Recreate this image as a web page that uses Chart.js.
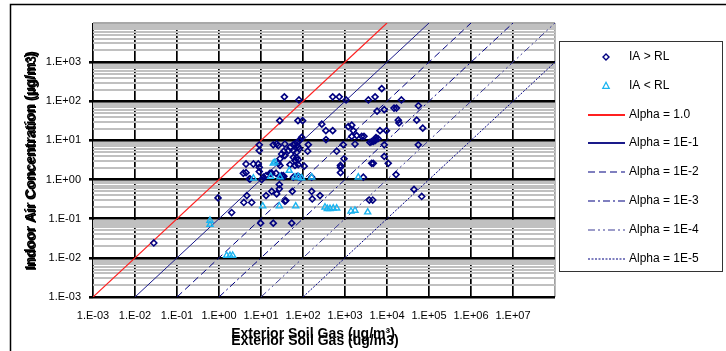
<!DOCTYPE html>
<html>
<head>
<meta charset="utf-8">
<script src="https://cdn.jsdelivr.net/npm/chart.js@4.4.0/dist/chart.umd.min.js"></script>
<style>
  body { margin: 0; background: #fff; }
  canvas { display: block; }
</style>
</head>
<body>
<canvas id="grafica" width="726" height="351"></canvas>
<script>
// Ejes
const xTickLabels = ['1.E-03', '1.E-02', '1.E-01', '1.E+00', '1.E+01', '1.E+02', '1.E+03', '1.E+04', '1.E+05', '1.E+06', '1.E+07'];
const yTickLabels = ['1.E-03', '1.E-02', '1.E-01', '1.E+00', '1.E+01', '1.E+02', '1.E+03'];
const xRange = [1e-3, 1e8];
const yRange = [1e-3, 1e4];

// IA > RL  [soil gas, indoor air]
const iaAboveRL = [
  [7500, 210], [36, 130], [510, 130], [730, 130], [5200, 130], [80, 108], [1060, 108], [3600, 108],
  [22000, 108], [56000, 77], [14700, 67], [16800, 67], [8600, 61], [5800, 56], [28, 32], [76, 32],
  [98, 32], [18600, 33], [51000, 33], [19300, 28], [280, 26], [1200, 22.5], [1450, 24.6], [71000, 20.6],
  [350, 17.8], [510, 17.8], [1580, 17.8], [6800, 17.8], [9700, 17.8], [1450, 12.7], [1900, 13.3], [2500, 12.7],
  [2830, 12.7], [5470, 11.8], [6100, 11.1], [5470, 10.5], [5180, 9.9], [4320, 9.3], [3940, 8.9], [4720, 9.5],
  [353, 10.5], [93, 12], [85, 10.3], [73, 8.9], [1730, 8.1], [910, 7.8], [8600, 7.7], [55600, 7.7],
  [134, 7.8], [9.1, 7.7], [9.1, 5.5], [19.6, 7.7], [23.6, 8.1], [25.8, 7.4], [37, 8.1], [49, 6.7],
  [59, 7.8], [64.5, 8.1], [73, 7.4], [77, 6.7], [82, 6.1], [44.7, 5.5], [59, 5.5], [71, 5.0],
  [634, 5.3], [129, 5.3], [35, 5.3], [31, 4.5], [37, 4.1], [59, 3.7], [64.5, 3.05], [71, 3.6],
  [77, 3.2], [28.3, 3.4], [25.8, 2.6], [946, 3.4], [8600, 3.9], [4.4, 2.5], [6.6, 2.5], [8.6, 2.5],
  [9.1, 2.06], [49, 2.4], [64.5, 2.3], [77, 2.4], [107, 2.2], [781, 2.3], [781, 2.06], [781, 1.5],
  [4320, 2.6], [4720, 2.6], [10700, 2.6], [4.4, 1.5], [9.1, 1.6], [16.4, 1.45], [22.8, 1.45], [28.3, 2.3],
  [2730, 1.15], [16400, 1.34], [28.3, 1.19], [34, 1.26], [59, 1.15], [73, 1.21], [82, 1.15], [161, 1.15],
  [3.8, 1.45], [5.3, 1.04], [11.4, 1.15], [13.2, 1.26], [18, 1.45], [31, 1.26], [35, 1.19], [5.5, 1.04],
  [10.4, 1.0], [4.6, 0.39], [3.9, 0.26], [6.0, 0.26], [13.2, 0.39], [18, 0.5], [23.6, 0.43], [27.3, 0.745],
  [27.3, 0.58], [55.6, 0.5], [37, 0.28], [39, 0.29], [161, 0.5], [166, 0.32], [254, 0.39], [3790, 0.3],
  [4570, 0.3], [44000, 0.56], [67000, 0.37], [9.8, 0.077], [19.6, 0.077], [54, 0.077], [0.95, 0.34], [2.0, 0.144],
  [0.028, 0.024]
];

// IA < RL
const iaBelowRL = [
  [6.6, 1.08], [19.6, 2.6], [47, 1.7], [2070, 1.15], [17, 1.19], [28.3, 1.16], [64.5, 1.15], [77, 1.19],
  [93, 1.1], [161, 1.15], [21.5, 2.76], [11, 0.21], [27.3, 0.21], [67, 0.21], [334, 0.196], [379, 0.18],
  [439, 0.18], [526, 0.185], [634, 0.185], [1390, 0.155], [1730, 0.162], [3470, 0.147], [0.61, 0.09], [0.61, 0.071],
  [1.52, 0.0115], [1.83, 0.0115], [2.12, 0.0115]
];

// Rectas alpha (inicio y fin)
const alphaNames = ['Alpha = 1.0', 'Alpha = 1E-1', 'Alpha = 1E-2', 'Alpha = 1E-3', 'Alpha = 1E-4', 'Alpha = 1E-5'];
const alphaStart = [[1e-3, 1e-3], [1e-2, 1e-3], [1e-1, 1e-3], [1, 1e-3], [10, 1e-3], [100, 1e-3]];
const alphaEnd = [[1e4, 1e4], [1e5, 1e4], [1e6, 1e4], [1e7, 1e4], [1e8, 1e4], [1e8, 1e3]];

const alphaColors = ['#ff2020', '#1a1a8a', '#000080', '#000080', '#3c3c96', '#000080'];
const alphaDash = [[], [], [7, 4], [7, 3, 2, 3], [7, 3, 2, 3, 2, 3], [2, 1.5]];
const navy = '#000080';
const cyan = '#1ab4f0';

const font = 'Liberation Sans, Arial, sans-serif';
Chart.defaults.font.family = font;
Chart.defaults.color = '#000';

function isDecade(v) {
  const l = Math.log10(v);
  return Math.abs(l - Math.round(l)) < 1e-6;
}
function matchLabel(v, labels) {
  for (let i = 0; i < labels.length; i++) {
    if (Math.abs(Number(labels[i]) - v) / v < 1e-6) return labels[i];
  }
  return '';
}

const datasets = [
  {
    label: 'IA > RL',
    data: iaAboveRL.map(p => ({x: p[0], y: p[1]})),
    pointStyle: 'rectRot',
    pointRadius: 3,
    pointBorderWidth: 1.6,
    borderColor: navy,
    backgroundColor: 'rgba(0,0,0,0)',
    order: 1
  },
  {
    label: 'IA < RL',
    data: iaBelowRL.map(p => ({x: p[0], y: p[1]})),
    pointStyle: 'triangle',
    pointRadius: 3.5,
    pointBorderWidth: 1.4,
    borderColor: cyan,
    backgroundColor: 'rgba(0,0,0,0)',
    order: 0
  }
];
for (let i = 0; i < alphaNames.length; i++) {
  datasets.push({
    label: alphaNames[i],
    type: 'line',
    data: [{x: alphaStart[i][0], y: alphaStart[i][1]}, {x: alphaEnd[i][0], y: alphaEnd[i][1]}],
    showLine: true,
    borderColor: alphaColors[i],
    borderWidth: i == 0 ? 1.2 : 1,
    borderDash: alphaDash[i],
    pointRadius: 0,
    fill: false,
    order: 2
  });
}

// Marco, titulos y leyenda
const decoraciones = {
  id: 'decoraciones',
  beforeDraw(chart) {
    const ctx = chart.ctx;
    ctx.save();
    ctx.fillStyle = '#fff';
    ctx.fillRect(0, 0, chart.width, chart.height);
    ctx.strokeStyle = '#000';
    ctx.lineWidth = 1.5;
    ctx.strokeRect(10.5, 4.5, 900, 500);
    ctx.restore();
  },
  afterDraw(chart) {
    const ctx = chart.ctx;
    ctx.save();
    // titulo eje y
    ctx.fillStyle = '#000';
    ctx.font = 'bold 14px ' + font;
    ctx.textAlign = 'center';
    ctx.textBaseline = 'middle';
    ctx.translate(31, 161);
    ctx.rotate(-Math.PI / 2);
    ctx.fillText('Indoor Air Concentration (µg/m³)', 0, 0);
    ctx.fillText('Indoor Air Concentration (µg/m3)', 0, 1);
    ctx.restore();

    ctx.save();
    ctx.fillStyle = '#000';
    ctx.font = 'bold 14px ' + font;
    ctx.textAlign = 'center';
    ctx.textBaseline = 'middle';
    ctx.fillText('Exterior Soil Gas (µg/m³)', 313, 334);
    ctx.fillText('Exterior Soil Gas (ug/m3)', 315, 341);
    ctx.restore();

    // leyenda
    ctx.save();
    ctx.strokeStyle = '#333';
    ctx.lineWidth = 1;
    ctx.fillStyle = '#fff';
    ctx.fillRect(559.5, 41.5, 163, 230);
    ctx.strokeRect(559.5, 41.5, 163, 230);
    ctx.font = '12px ' + font;
    ctx.textAlign = 'left';
    ctx.textBaseline = 'middle';
    const y0 = 57, dy = 28.8;
    // diamante
    ctx.strokeStyle = navy;
    ctx.lineWidth = 1.4;
    ctx.beginPath();
    ctx.moveTo(603, y0); ctx.lineTo(606, y0 - 3); ctx.lineTo(609, y0); ctx.lineTo(606, y0 + 3); ctx.closePath();
    ctx.stroke();
    // triangulo
    const y1 = y0 + dy;
    ctx.strokeStyle = cyan;
    ctx.lineWidth = 1.3;
    ctx.beginPath();
    ctx.moveTo(606, y1 - 3.5); ctx.lineTo(609.2, y1 + 2.5); ctx.lineTo(602.8, y1 + 2.5); ctx.closePath();
    ctx.stroke();
    ctx.fillStyle = '#000';
    ctx.fillText('IA > RL', 629, y0);
    ctx.fillText('IA < RL', 629, y1);
    for (let i = 0; i < alphaNames.length; i++) {
      const y = Math.round(y0 + dy * (i + 2));
      ctx.strokeStyle = alphaColors[i];
      ctx.lineWidth = i < 2 ? 2 : 1.2;
      ctx.setLineDash(alphaDash[i]);
      ctx.beginPath();
      ctx.moveTo(588, y);
      ctx.lineTo(625, y);
      ctx.stroke();
      ctx.setLineDash([]);
      ctx.fillText(alphaNames[i], 629, y);
    }
    ctx.restore();
  }
};

new Chart(document.getElementById('grafica'), {
  type: 'scatter',
  data: { datasets: datasets },
  plugins: [decoraciones],
  options: {
    responsive: false,
    animation: false,
    layout: { padding: { left: 0, top: 23, right: 171, bottom: 0 } },
    plugins: {
      legend: { display: false },
      tooltip: { enabled: false }
    },
    scales: {
      x: {
        type: 'logarithmic',
        min: xRange[0],
        max: xRange[1],
        afterBuildTicks: (scale) => {
          const vals = xTickLabels.map(Number);
          vals.push(xRange[1]);
          scale.ticks = vals.map(v => ({value: v}));
        },
        afterFit: (scale) => { scale.height = 54; },
        border: { display: false },
        grid: {
          drawTicks: false,
          color: (c) => (c.tick && c.tick.value > xRange[1] * 0.99) ? '#a0a0a0' : '#000',
          lineWidth: 1.7
        },
        ticks: {
          autoSkip: false,
          maxRotation: 0,
          padding: 12,
          font: { size: 11 },
          callback: (v) => matchLabel(v, xTickLabels)
        }
      },
      y: {
        type: 'logarithmic',
        min: yRange[0],
        max: yRange[1],
        afterBuildTicks: (scale) => {
          const vals = [];
          for (const lbl of yTickLabels) {
            const base = Number(lbl);
            for (let k = 1; k <= 9; k++) vals.push(base * k);
          }
          vals.push(yRange[1]);
          scale.ticks = vals.map(v => ({value: v}));
        },
        afterFit: (scale) => { scale.width = 93; },
        border: { display: false },
        grid: {
          tickLength: 4,
          color: (c) => {
            if (!c.tick) return '#c0c0c0';
            const v = c.tick.value;
            if (v > yRange[1] * 0.99) return '#a8a8a8';
            return isDecade(v) ? '#000' : '#c0c0c0';
          },
          lineWidth: (c) => (c.tick && isDecade(c.tick.value) && c.tick.value < yRange[1] * 0.99) ? 2.6 : 2,
          tickColor: (c) => (c.tick && isDecade(c.tick.value) && c.tick.value < yRange[1] * 0.99) ? '#000' : 'rgba(0,0,0,0)',
          tickWidth: 2.6
        },
        ticks: {
          autoSkip: false,
          padding: 8,
          font: { size: 11 },
          callback: (v) => matchLabel(v, yTickLabels)
        }
      }
    }
  }
});
</script>
</body>
</html>
